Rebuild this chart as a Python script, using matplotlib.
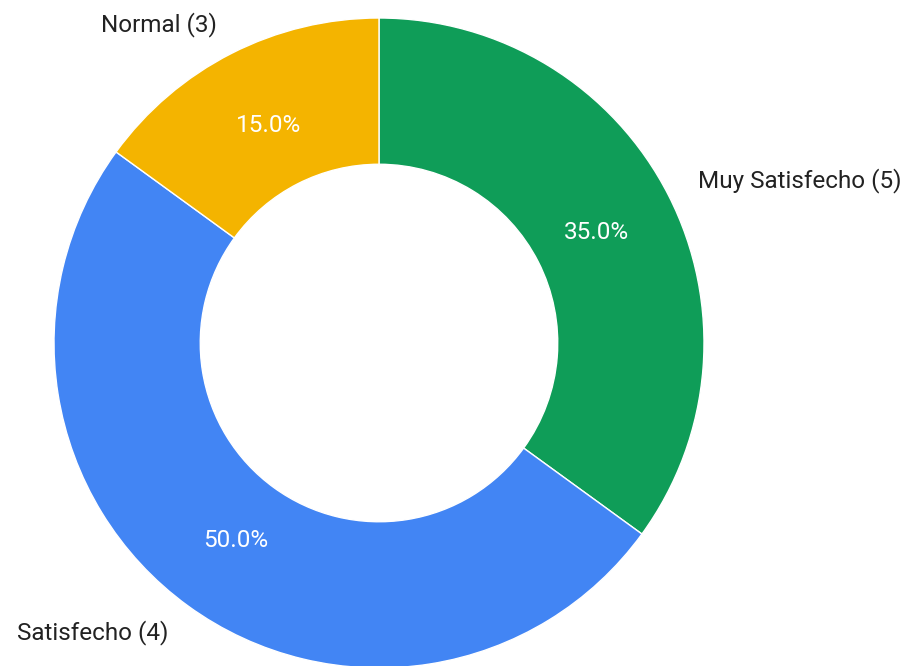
import numpy as np
import matplotlib.pyplot as plt

# Datos de la encuesta
categorias = ['Muy Satisfecho (5)', 'Satisfecho (4)', 'Normal (3)']
porcentajes = [35.0, 50.0, 15.0]
colores = ['#0f9d58', '#4285f4', '#f4b400']

plt.rcParams['font.family'] = ['Roboto', 'DejaVu Sans']

centro = (379, 323)

fig = plt.figure(figsize=(9.12, 6.66), dpi=100)
ax = fig.add_axes([0, 0, 1, 1])

wedges, textos, autotextos = ax.pie(
    porcentajes, labels=categorias, colors=colores, autopct='%1.1f%%',
    startangle=90, counterclock=False, radius=325, center=centro,
    labeldistance=1.1, pctdistance=0.75,
    wedgeprops=dict(width=325 * 0.45, edgecolor='white', linewidth=1),
    textprops=dict(fontsize=17.5, color='#222222'))

# alineacion de las etiquetas segun el lado del centro
for t in textos:
    x, y = t.get_position()
    t.set_ha('left' if x > centro[0] else 'right')

for t in autotextos:
    t.set_color('white')
    t.set_fontsize(17.5)

ax.set_xlim(0, 912)
ax.set_ylim(0, 666)
ax.set_aspect('equal')
ax.axis('off')

fig.savefig('out.png', dpi=100)
